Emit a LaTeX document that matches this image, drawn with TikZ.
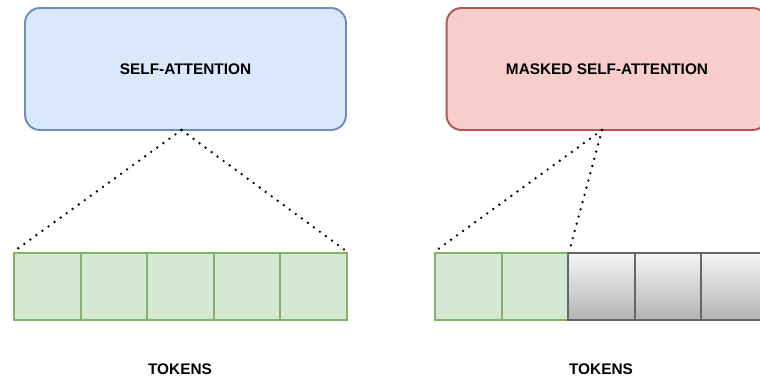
\documentclass[tikz,border=0pt]{standalone}
\usepackage{fontspec}
\setmainfont{Liberation Sans}
\definecolor{attnfill}{HTML}{DAE8FC}
\definecolor{attnline}{HTML}{6C8EBF}
\definecolor{maskfill}{HTML}{F8CECC}
\definecolor{maskline}{HTML}{B85450}
\definecolor{tokfill}{HTML}{D5E8D4}
\definecolor{tokline}{HTML}{82B366}
\definecolor{greytop}{HTML}{F5F5F5}
\definecolor{greybot}{HTML}{B3B3B3}
\definecolor{greyline}{HTML}{666666}
\begin{document}
\begin{tikzpicture}[x=0.02cm,y=-0.02cm,
    font=\fontsize{8.75}{10}\selectfont\bfseries,
    attnbox/.style={draw,rounded corners=0.3cm,line width=1.1pt,
      minimum width=6.42cm,minimum height=2.44cm},
    token/.style={draw=tokline,fill=tokfill,line width=1.1pt,
      minimum width=1.33cm,minimum height=1.34cm},
    masked/.style={draw=greyline,top color=greytop,bottom color=greybot,
      line width=1.1pt,minimum width=1.33cm,minimum height=1.34cm},
    dots/.style={line width=1.5pt,dash pattern=on 0pt off 4.25pt,line cap=round}]
      \useasboundingbox (0,0) rectangle (760,381);
      % attention blocks
      \node[attnbox,fill=attnfill,draw=attnline] (attn) at (185.5,69) {SELF-ATTENTION};
      \node[attnbox,fill=maskfill,draw=maskline] (mattn) at (607,69) {MASKED SELF-ATTENTION};
      \coordinate (apexl) at (181.5,130);
      \coordinate (apexr) at (602,130);
      % token rows
      \node[token] (l1) at (47.3,286.5) {};
      \node[token] (l2) at (113.8,286.5) {};
      \node[token] (l3) at (180.3,286.5) {};
      \node[token] (l4) at (246.8,286.5) {};
      \node[token] (l5) at (313.3,286.5) {};
      \node[token] (r1) at (468.3,286.5) {};
      \node[token] (r2) at (534.8,286.5) {};
      \node[masked] (r3) at (601.3,286.5) {};
      \node[masked] (r4) at (667.8,286.5) {};
      \node[masked] (r5) at (734.3,286.5) {};
      \node (ltok) at (180,369) {TOKENS};
      \node (rtok) at (601,369) {TOKENS};
      \begin{scope}[dots]
        \draw (apexl) to (l1.north west);
        \draw (apexl) to (l5.north east);
        \draw (apexr) to (r1.north west);
        \draw (apexr) to (r2.north east);
      \end{scope}
    \end{tikzpicture}
\end{document}
